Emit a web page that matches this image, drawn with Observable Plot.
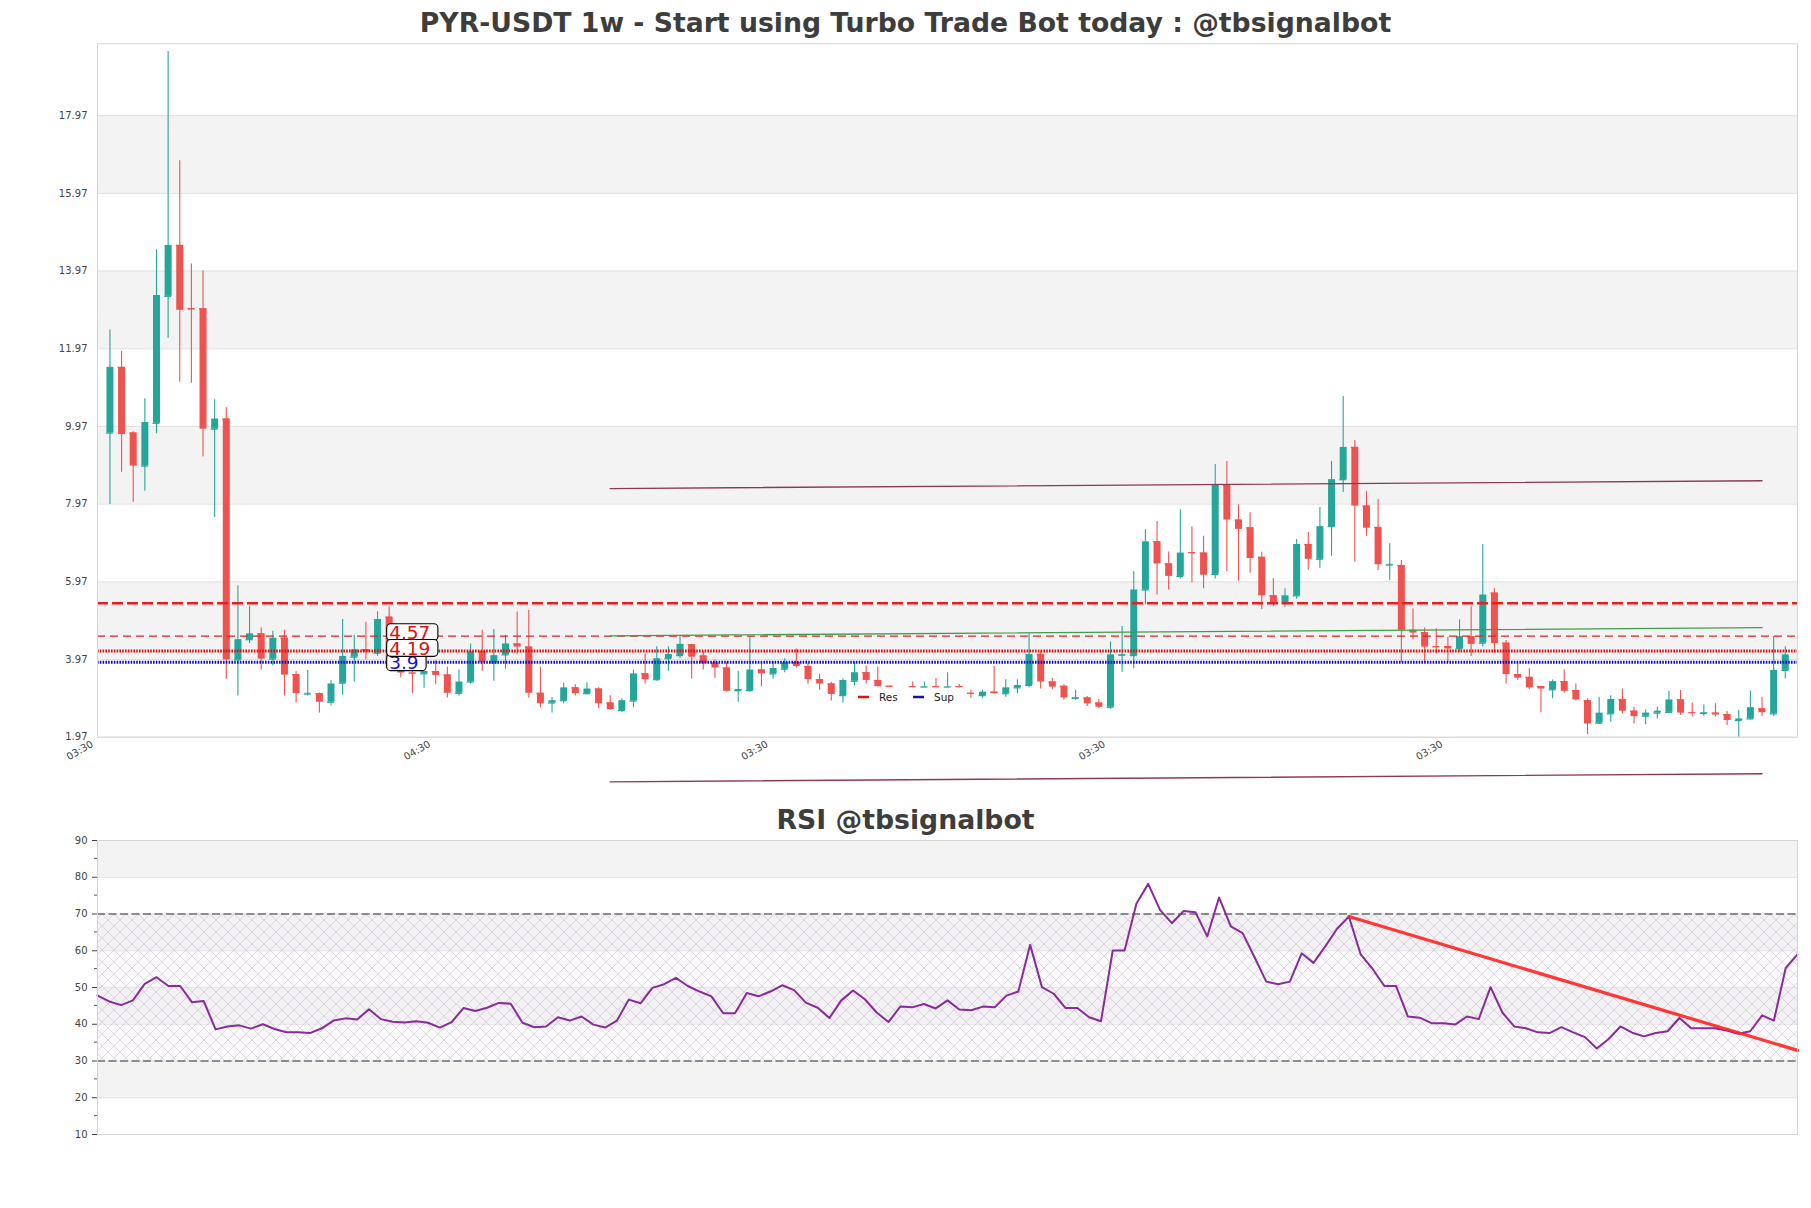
<!DOCTYPE html>
<html><head><meta charset="utf-8">
<script src="https://cdn.jsdelivr.net/npm/d3@7"></script>
<script src="https://cdn.jsdelivr.net/npm/@observablehq/plot@0.6"></script>
<style>
body{margin:0;background:#fff;}
#wrap{position:relative;width:1811px;height:1208px;background:#fff;font-family:"DejaVu Sans",sans-serif;overflow:hidden}
.title{position:absolute;left:0;width:1811px;text-align:center;font-weight:bold;font-size:26.7px;line-height:26px;color:#3d3d3d;font-family:"DejaVu Sans",sans-serif}
#main{position:absolute;left:0;top:0}
#rsi{position:absolute;left:0;top:800px}
</style></head><body>
<div id="wrap">
<div id="main"></div>
<div id="rsi"></div>
<div class="title" style="top:9.5px">PYR-USDT 1w - Start using Turbo Trade Bot today : @tbsignalbot</div>
<div class="title" style="top:807px">RSI @tbsignalbot</div>
</div>
<script>
// ---------- DATA ----------
const openP = [9.80,11.49,9.80,8.95,10.05,13.32,14.63,13.00,13.00,9.90,
10.16,3.96,4.48,4.63,3.98,4.52,3.58,3.08,3.09,2.87,
3.36,4.03,4.22,4.13,5.06,3.70,3.62,3.60,3.66,3.57,
3.10,3.39,4.17,3.88,4.09,4.37,4.29,3.10,2.85,2.91,
3.24,3.09,3.21,2.85,2.66,2.90,3.60,3.45,3.99,4.07,
4.35,4.06,3.88,3.75,3.17,3.17,3.70,3.60,3.72,3.89,
3.79,3.45,3.34,3.04,3.41,3.63,3.43,3.28,null,3.27,
3.26,3.27,3.26,3.27,3.10,3.04,3.13,3.09,3.24,3.30,
4.10,3.39,3.28,2.97,2.98,2.85,2.74,4.08,4.07,5.76,
7.00,6.43,6.11,6.72,6.71,6.16,8.46,7.56,7.36,6.60,
5.61,5.42,5.61,6.93,6.55,7.39,8.60,9.43,7.92,7.37,
6.40,6.39,4.72,4.66,4.30,4.30,4.25,4.56,4.39,5.68,
4.39,3.58,3.51,3.27,3.19,3.40,3.17,2.91,2.33,2.57,
2.94,2.64,2.51,2.59,2.61,2.93,2.60,2.58,2.59,2.55,
2.40,2.44,2.70,2.57,3.69];
const highP = [12.45,11.90,9.83,10.68,14.52,19.62,16.81,14.15,13.97,10.66,
10.45,5.87,5.33,4.78,4.70,4.72,3.66,3.69,3.11,3.43,
5.00,4.59,4.93,5.20,5.32,3.76,3.86,3.94,3.94,3.77,
3.70,4.37,4.72,4.74,4.59,5.19,5.23,3.77,2.99,3.36,
3.32,3.37,3.24,3.04,2.96,3.69,4.11,4.30,4.30,4.59,
4.36,4.17,3.96,3.90,3.67,4.54,3.90,3.92,3.99,4.24,
3.88,3.59,3.38,3.47,3.90,3.80,3.77,3.29,null,3.39,
3.39,3.48,3.63,3.33,3.18,3.18,3.79,3.45,3.45,4.63,
4.18,3.48,3.32,3.18,3.02,2.94,4.42,4.82,6.23,7.31,
7.52,6.74,7.82,7.38,7.14,8.99,9.07,7.95,7.75,6.73,
6.05,5.79,7.06,7.24,7.88,9.07,10.74,9.61,8.29,8.09,
6.95,6.52,5.27,4.78,4.76,4.54,4.99,5.33,6.93,5.79,
4.46,3.86,3.73,3.27,3.44,3.70,3.34,2.96,3.00,3.04,
3.21,2.74,2.67,2.74,3.15,3.17,2.85,2.80,2.83,2.63,
2.66,3.15,3.00,4.56,4.30];
const lowP = [7.96,8.79,8.02,8.30,9.78,12.24,11.11,11.08,9.18,7.63,
3.46,3.03,4.38,3.70,3.81,3.03,2.85,3.03,2.59,2.77,
3.05,3.39,3.96,4.05,3.72,3.50,3.10,3.23,3.32,2.98,
3.03,3.34,3.67,3.41,3.72,4.09,2.98,2.72,2.59,2.83,
3.03,3.06,2.70,2.66,2.60,2.73,3.34,3.41,3.67,3.99,
3.47,3.70,3.49,3.13,2.87,3.13,3.27,3.46,3.63,3.75,
3.33,3.18,2.90,2.85,3.29,3.34,3.26,3.26,null,3.26,
3.26,3.26,3.26,3.24,2.97,2.97,3.08,3.00,3.09,3.24,
3.21,3.19,2.93,2.92,2.76,2.71,2.69,3.64,3.73,5.38,
5.63,5.76,6.04,5.94,5.79,6.04,6.23,5.99,6.19,5.26,
5.33,5.31,5.52,6.27,6.32,6.63,8.27,6.48,7.14,6.26,
6.01,3.90,4.47,3.87,4.11,3.90,4.16,4.05,4.29,4.13,
3.34,3.43,3.19,2.60,2.96,3.11,2.90,2.04,2.31,2.36,
2.57,2.31,2.29,2.44,2.59,2.53,2.49,2.51,2.49,2.27,
1.97,2.42,2.50,2.50,3.47];
const closeP = [11.49,9.76,8.95,10.07,13.34,14.63,12.96,12.97,9.90,10.16,
3.96,4.48,4.63,3.98,4.52,3.57,3.09,3.10,2.87,3.34,
4.05,4.22,4.16,5.00,3.75,3.62,3.60,3.66,3.56,3.10,
3.39,4.17,3.90,4.07,4.37,4.29,3.10,2.83,2.91,3.24,
3.09,3.21,2.83,2.68,2.91,3.60,3.45,3.99,4.10,4.36,
4.03,3.86,3.75,3.15,3.20,3.70,3.60,3.74,3.89,3.79,
3.45,3.34,3.07,3.43,3.63,3.43,3.27,3.27,null,3.26,
3.27,3.26,3.27,3.25,3.09,3.13,3.09,3.24,3.30,4.10,
3.39,3.26,2.98,2.99,2.83,2.74,4.09,4.10,5.76,7.00,
6.43,6.11,6.71,6.70,6.14,8.46,7.56,7.32,6.57,5.61,
5.42,5.61,6.93,6.55,7.39,8.60,9.43,7.92,7.35,6.41,
6.42,4.72,4.65,4.29,4.29,4.24,4.56,4.36,5.63,4.38,
3.58,3.49,3.24,3.21,3.40,3.15,2.93,2.31,2.59,2.94,
2.64,2.50,2.59,2.64,2.93,2.59,2.59,2.60,2.54,2.40,
2.44,2.73,2.60,3.69,4.09];
const rsiValues = [47.8,46.2,45.2,46.5,51.0,52.8,50.4,50.4,46.0,46.3,
38.6,39.4,39.7,38.8,40.0,38.7,37.8,37.8,37.6,38.9,
41.0,41.6,41.3,44.1,41.4,40.7,40.5,40.8,40.4,39.1,
40.6,44.4,43.6,44.5,45.8,45.6,40.4,39.2,39.4,41.9,
41.0,42.1,39.9,39.1,41.0,46.7,45.7,49.9,50.9,52.6,
50.4,48.9,47.6,43.0,43.0,48.5,47.6,48.9,50.6,49.3,
45.9,44.5,41.7,46.5,49.2,46.8,43.2,40.6,44.8,44.6,
45.5,44.3,46.5,44.0,43.8,44.8,44.6,47.8,48.9,61.6,
50.1,48.3,44.4,44.4,41.9,40.8,60.1,60.1,72.8,78.2,
71.1,67.5,70.8,70.5,63.9,74.5,66.6,64.8,58.3,51.6,
50.9,51.6,59.3,56.7,61.2,66.0,69.3,59.0,55.1,50.4,
50.4,42.1,41.8,40.3,40.3,39.9,42.1,41.4,50.1,43.2,
39.4,38.9,37.8,37.6,39.2,37.8,36.5,33.4,36.0,39.4,
37.7,36.7,37.6,38.1,41.7,38.9,38.9,38.9,38.3,37.4,
38.1,42.4,41.0,55.3,59.0];
const priceTicks = [1.97,3.97,5.97,7.97,9.97,11.97,13.97,15.97,17.97];
const priceDomain = [1.97,19.82];
const xDomain = [-1.07,145.05];
const xTickPos = [-1,28,57,86,115];
const xTickLabels = ["03:30","04:30","03:30","03:30","03:30"];
const resThick = 5.42;
const levelLabels = [ // drawn in this order
  {t:"3.9", v:3.9, kind:"sup"},
  {t:"4.57", v:4.57, kind:"res"},
  {t:"4.19", v:4.19, kind:"res"}
];
const labelIndex = 24;
const upperTrend = [{i:43,v:8.37},{i:142,v:8.57}];
const greenTrend = [{i:43,v:4.58},{i:142,v:4.79}];
const lowerTrend = [{i:43,v:0.82},{i:142,v:1.03}];
const rsiTicks = [10,20,30,40,50,60,70,80,90];
const rsiMinor = [15,25,35,45,55,65,75,85];
const rsiTrend = [{i:106,v:69.3},{i:144,v:32.9}];

// ---------- BUILD ----------
const UP="#26a69a", DOWN="#ef5350";
const candles = openP.map((o,i)=>({i,o,h:highP[i],l:lowP[i],c:closeP[i]})).filter(d=>d.o!=null);
candles.forEach(d=>d.col = d.c>=d.o ? UP : DOWN);
const mainBands = [];
for (let k=1;k<priceTicks.length;k+=2) mainBands.push({a:priceTicks[k], b:priceTicks[k+1]});
const rsiBands = [[20,30],[40,50],[60,70],[80,90]].map(([a,b])=>({a,b}));

const baseStyle = {fontFamily:"DejaVu Sans, sans-serif", fontSize:"10px", color:"#444", background:"transparent", overflow:"visible"};

const mainPlot = Plot.plot({
  width:1811, height:800,
  marginLeft:97, marginRight:14, marginTop:43.3, marginBottom:63.3,
  style: baseStyle,
  x:{domain:xDomain, ticks:xTickPos, tickFormat:(d)=>xTickLabels[xTickPos.indexOf(d)], tickRotate:-30, tickSize:0, tickPadding:3, label:null},
  y:{domain:priceDomain, ticks:priceTicks, tickFormat:d=>d.toFixed(2), tickSize:0, tickPadding:10, label:null},
  marks:[
    Plot.rect(mainBands,{y1:"a",y2:"b",fill:"#f3f3f3"}),
    Plot.ruleY(priceTicks,{stroke:"#e0e0e0",strokeWidth:1}),
    Plot.ruleX(candles,{x:"i",y1:"l",y2:"h",stroke:"col",strokeWidth:1.1}),
    Plot.ruleX(candles,{x:"i",y1:"o",y2:"c",stroke:"col",strokeWidth:7}),
    Plot.ruleY(candles,{y:"o",x1:d=>d.i-0.3,x2:d=>d.i+0.3,stroke:"col",strokeWidth:1.2}),
    Plot.ruleY([resThick],{stroke:"#ee1c1c",strokeWidth:2.4,strokeDasharray:"11,4"}),
    Plot.ruleY([levelLabels[1].v],{stroke:"#d92626",strokeWidth:1.3,strokeDasharray:"8,5"}),
    Plot.ruleY([levelLabels[2].v],{stroke:"#e01010",strokeWidth:3,strokeDasharray:"1.6,1.2"}),
    Plot.ruleY([levelLabels[0].v],{stroke:"#0a0ad0",strokeWidth:3,strokeDasharray:"1.6,1.2"}),
    Plot.line(upperTrend,{x:"i",y:"v",stroke:"#8c3a52",strokeWidth:1.4}),
    Plot.line(greenTrend,{x:"i",y:"v",stroke:"#3aa04a",strokeWidth:1.3}),
    Plot.line(lowerTrend,{x:"i",y:"v",stroke:"#8c3a52",strokeWidth:1.4}),
    ...levelLabels.map(L=>Plot.text([L],{x:()=>labelIndex,y:"v",text:"t",textAnchor:"start",fontSize:18.5,
        fill: L.kind==="sup" ? "#1010e0" : "#e01010", dy: L.t==="4.57" ? -3 : (L.t==="4.19" ? -2 : 1)})),
    Plot.frame({stroke:"#d6d6d6"})
  ]
});
document.getElementById("main").appendChild(mainPlot);

const rsiPlot = Plot.plot({
  width:1811, height:408,
  marginLeft:97, marginRight:14, marginTop:40, marginBottom:74,
  style: baseStyle,
  x:{domain:[0,rsiValues.length-1], axis:null},
  y:{domain:[10,90], ticks:rsiTicks, tickSize:5, tickPadding:5, label:null},
  marks:[
    Plot.rect(rsiBands,{y1:"a",y2:"b",fill:"#f3f3f3"}),
    Plot.ruleY(rsiTicks,{stroke:"#e0e0e0",strokeWidth:1}),
    Plot.rect([{a:30,b:70}],{y1:"a",y2:"b",fill:"#010203"}),
    Plot.ruleY([30,70],{stroke:"#333",strokeWidth:1.2,strokeDasharray:"8,3.5"}),
    Plot.line(rsiValues.map((v,i)=>({i,v})),{x:"i",y:"v",stroke:"#8a2a9c",strokeWidth:2}),
    Plot.line(rsiTrend,{x:"i",y:"v",stroke:"#ff2222",strokeWidth:3.2,strokeOpacity:0.9}),
    Plot.frame({stroke:"#d6d6d6"})
  ]
});
document.getElementById("rsi").appendChild(rsiPlot);

// ---------- POST-PROCESS ----------
const NS="http://www.w3.org/2000/svg";
// x tick labels: size and offset
d3.select(mainPlot).selectAll("g").filter(function(){const a=this.getAttribute("aria-label");return a && a.startsWith("x-axis");})
  .each(function(){
    const old=this.getAttribute("transform")||"";
    this.setAttribute("transform", old+" translate(-6,3)");
  })
  .selectAll("text").attr("font-size","10px");
// label boxes
d3.select(mainPlot).selectAll('g[aria-label="text"] text').each(function(){
  const bb=this.getBBox();
  const r=document.createElementNS(NS,"rect");
  r.setAttribute("x",bb.x-2.5); r.setAttribute("y",bb.y+bb.height*0.08);
  r.setAttribute("width",bb.width+10); r.setAttribute("height",bb.height*0.8);
  r.setAttribute("rx",4); r.setAttribute("fill","#fff"); r.setAttribute("stroke","#000"); r.setAttribute("stroke-width",1.1);
  const tr=this.getAttribute("transform"); if(tr) r.setAttribute("transform",tr);
  this.parentNode.insertBefore(r,this);
});
// legend
const leg=d3.select(mainPlot).append("g").attr("font-size","10.5px").attr("fill","#222").attr("text-anchor","start");
leg.append("line").attr("x1",858).attr("x2",869).attr("y1",697).attr("y2",697).attr("stroke","#dd1111").attr("stroke-width",2.5);
leg.append("text").attr("x",879).attr("y",700.5).text("Res");
leg.append("line").attr("x1",913).attr("x2",924).attr("y1",697).attr("y2",697).attr("stroke","#1111bb").attr("stroke-width",2.5);
leg.append("text").attr("x",934).attr("y",700.5).text("Sup");
// hatch pattern for RSI
const rs=d3.select(rsiPlot);
const defs=rs.insert("defs",":first-child");
const pat=defs.append("pattern").attr("id","hatchX").attr("patternUnits","userSpaceOnUse").attr("width",12).attr("height",12);
pat.append("rect").attr("width",12).attr("height",12).attr("fill","#f2eef4").attr("fill-opacity",0.35);
pat.append("path").attr("d","M0,0L12,12M12,0L0,12").attr("stroke","#b0a8bc").attr("stroke-width",0.6).attr("stroke-opacity",0.65).attr("fill","none");
rs.selectAll('[fill="#010203"]').attr("fill","url(#hatchX)");
// minor ticks on RSI y axis
const ys=rsiPlot.scale("y");
const mg=rs.append("g").attr("stroke","#555").attr("stroke-width",1);
rsiMinor.forEach(v=>{const y=ys.apply(v); mg.append("line").attr("x1",94).attr("x2",97).attr("y1",y).attr("y2",y);});
</script>
</body></html>
